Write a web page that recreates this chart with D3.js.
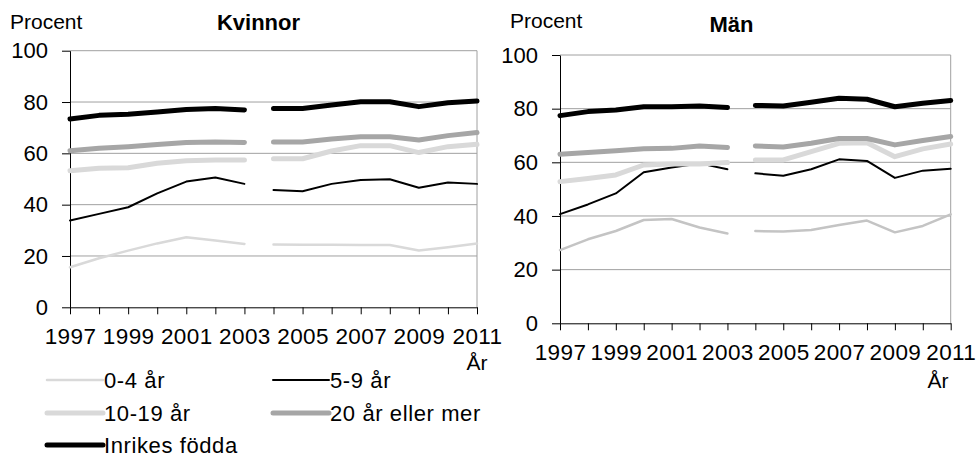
<!DOCTYPE html>
<html>
<head>
<meta charset="utf-8">
<script src="https://cdn.jsdelivr.net/npm/d3@7"></script>
<style>
  body { margin: 0; background: #fff; }
  svg { display: block; font-family: "Liberation Sans", Arial, sans-serif; }
</style>
</head>
<body>
<div id="chart"></div>
<script>
// data
const years = [1997, 1998, 1999, 2000, 2001, 2002, 2003, 2004, 2005, 2006, 2007, 2008, 2009, 2010, 2011];
const yearLabels = [1997, 1999, 2001, 2003, 2005, 2007, 2009, 2011];
const yTicks = [0, 20, 40, 60, 80, 100];
const breakAfter = 2003;   // series are not joined between 2003 and 2004

const seriesNames = ["0-4 år", "5-9 år", "10-19 år", "20 år eller mer", "Inrikes födda"];

const kvinnor04 = [15.6, 19.1, 22.1, 24.9, 27.3, 26.0, 24.7, 24.5, 24.4, 24.4, 24.3, 24.3, 22.1, 23.4, 24.9];
const kvinnor59 = [33.8, 36.4, 39.0, 44.4, 49.0, 50.6, 48.1, 45.7, 45.2, 48.1, 49.6, 49.9, 46.6, 48.6, 48.1];
const kvinnor1019 = [53.2, 54.2, 54.4, 56.1, 57.1, 57.4, 57.4, 57.9, 57.9, 60.9, 63.0, 63.0, 60.3, 62.6, 63.5];
const kvinnor20 = [61.0, 62.0, 62.6, 63.4, 64.2, 64.4, 64.2, 64.4, 64.4, 65.6, 66.5, 66.5, 65.2, 66.9, 68.1];
const kvinnorInrikes = [73.4, 74.8, 75.2, 76.1, 77.1, 77.5, 76.9, 77.5, 77.5, 78.8, 80.1, 80.1, 78.2, 79.7, 80.4];

const man04 = [27.3, 31.3, 34.4, 38.5, 38.9, 35.7, 33.5, 34.4, 34.2, 34.8, 36.6, 38.3, 33.9, 36.3, 40.6];
const man59 = [40.7, 44.3, 48.4, 56.3, 58.1, 59.6, 57.4, 55.9, 55.0, 57.4, 61.1, 60.5, 54.2, 56.9, 57.6];
const man1019 = [52.8, 54.0, 55.3, 59.0, 59.4, 59.4, 59.9, 60.9, 60.9, 64.0, 67.1, 67.3, 62.1, 65.0, 66.8];
const man20 = [63.0, 63.7, 64.3, 65.1, 65.2, 66.1, 65.5, 66.1, 65.7, 67.1, 68.9, 68.9, 66.5, 68.1, 69.6];
const manInrikes = [77.4, 78.9, 79.5, 80.7, 80.7, 81.0, 80.4, 81.2, 81.0, 82.4, 83.9, 83.5, 80.7, 82.0, 83.0];

// styles
const seriesWidth = [2.5, 2, 5, 5, 5];
const colorsKvinnor = ["#d9d9d9", "#000", "#d9d9d9", "#a6a6a6", "#000"];
const colorsMan = ["#c4c4c4", "#000", "#d9d9d9", "#a6a6a6", "#000"];

const width = 977, height = 456;

const svg = d3.select("#chart")
    .append("svg")
    .attr("width", width)
    .attr("height", height);

const panels = [
    { title: "Kvinnor", values: [kvinnor04, kvinnor59, kvinnor1019, kvinnor20, kvinnorInrikes], colors: colorsKvinnor,
      x0: 70, x1: 477, yTop: 50.7, yBot: 307.3, procentX: 10, procentY: 29, titleX: 258.5, titleY: 30, arX: 477, arY: 370 },
    { title: "Män", values: [man04, man59, man1019, man20, manInrikes], colors: colorsMan,
      x0: 560, x1: 950.7, yTop: 55, yBot: 323.3, procentX: 510, procentY: 28, titleX: 731.5, titleY: 32, arX: 938, arY: 388 }
];

panels.forEach(p => {
    const x = d3.scaleLinear().domain([years[0], years[years.length - 1]]).range([p.x0, p.x1]);
    const y = d3.scaleLinear().domain([0, 100]).range([p.yBot, p.yTop]);
    const g = svg.append("g");

    // gridlines
    g.selectAll(".grid")
        .data(yTicks.filter(d => d > 0))
        .enter()
        .append("line")
        .attr("x1", p.x0).attr("x2", p.x1)
        .attr("y1", d => y(d)).attr("y2", d => y(d))
        .attr("stroke", "#a0a0a0")
        .attr("stroke-width", 1);
    // right border
    g.append("line")
        .attr("x1", p.x1).attr("x2", p.x1)
        .attr("y1", p.yTop).attr("y2", p.yBot)
        .attr("stroke", "#a0a0a0");

    // y axis
    g.append("g")
        .attr("transform", `translate(${p.x0},0)`)
        .call(d3.axisLeft(y).tickValues(yTicks).tickSize(8).tickSizeOuter(0).tickPadding(14))
        .call(a => a.selectAll("line, path").attr("stroke", "#000"))
        .call(a => a.selectAll("text")
            .attr("fill", "#000")
            .style("font-size", "22px")
            .style("font-family", "'Liberation Sans', Arial, sans-serif"));

    // x axis
    g.append("g")
        .attr("transform", `translate(0,${p.yBot})`)
        .call(d3.axisBottom(x).tickValues(years).tickSize(7).tickSizeOuter(0).tickPadding(14)
            .tickFormat(d => yearLabels.includes(d) ? d : ""))
        .call(a => a.selectAll("line, path").attr("stroke", "#000"))
        .call(a => a.selectAll("text")
            .attr("fill", "#000")
            .style("font-size", "22.5px")
            .style("letter-spacing", "0.4px")
            .style("font-family", "'Liberation Sans', Arial, sans-serif"));

    // lines, split at the break
    const line = d3.line()
        .x(d => x(d.year))
        .y(d => y(d.value));

    p.values.forEach((vals, i) => {
        const pts = years.map((yr, j) => ({ year: yr, value: vals[j] }));
        const parts = [pts.filter(d => d.year <= breakAfter), pts.filter(d => d.year > breakAfter)];
        g.selectAll(".s" + i)
            .data(parts)
            .enter()
            .append("path")
            .attr("d", line)
            .attr("fill", "none")
            .attr("stroke", p.colors[i])
            .attr("stroke-width", seriesWidth[i])
            .attr("stroke-linejoin", "round")
            .attr("stroke-linecap", "round");
    });

    // texts
    g.append("text")
        .attr("x", p.procentX).attr("y", p.procentY)
        .style("font-size", "21px")
        .text("Procent");
    g.append("text")
        .attr("x", p.titleX).attr("y", p.titleY)
        .attr("text-anchor", "middle")
        .style("font-size", "22px")
        .style("font-weight", "bold")
        .text(p.title);
    g.append("text")
        .attr("x", p.arX).attr("y", p.arY)
        .attr("text-anchor", "middle")
        .style("font-size", "21px")
        .text("År");
});

// legend
const legendPos = [
    { lx: 47, ly: 380 }, { lx: 273, ly: 380 },
    { lx: 47, ly: 413 }, { lx: 273, ly: 413 },
    { lx: 47, ly: 445 }
];

const legend = svg.append("g")
    .selectAll(".leg")
    .data(seriesNames)
    .enter()
    .append("g")
    .attr("transform", (d, i) => `translate(${legendPos[i].lx},${legendPos[i].ly})`);

legend.append("line")
    .attr("x1", 0).attr("x2", 56)
    .attr("stroke", (d, i) => colorsKvinnor[i])
    .attr("stroke-width", (d, i) => seriesWidth[i])
    .attr("stroke-linecap", "round");

legend.append("text")
    .attr("x", 57)
    .attr("y", 7.5)
    .style("font-size", "22px")
    .style("letter-spacing", "0.6px")
    .text(d => d);
</script>
</body>
</html>
